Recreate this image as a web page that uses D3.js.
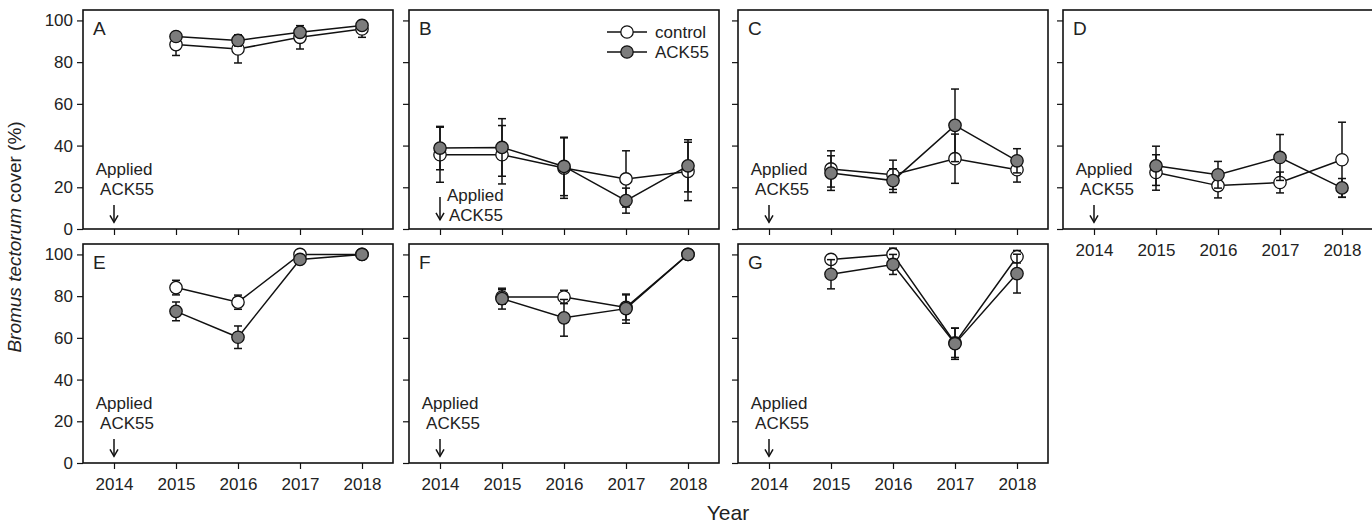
<!DOCTYPE html>
<html>
<head>
<meta charset="utf-8">
<script src="https://cdn.jsdelivr.net/npm/d3@7"></script>
<style>
  body { margin: 0; background: #fff; }
  svg { font-family: "Liberation Sans", Arial, sans-serif; }
</style>
</head>
<body>
<svg id="chart" width="1372" height="527"></svg>
<script>
// data (mean cover %, and error bar half-length)
const panelNames = ["A", "B", "C", "D", "E", "F", "G"];
const years = [2015, 2016, 2017, 2018];
const yearsB = [2014, 2015, 2016, 2017, 2018];
const tickYears = [2014, 2015, 2016, 2017, 2018];
const yTicks = [0, 20, 40, 60, 80, 100];

const controlMean = [
  [88.4, 86.3, 91.9, 95.9],
  [35.6, 35.6, 29.2, 24.0, 27.6],
  [28.8, 26.0, 33.7, 28.4],
  [27.1, 20.8, 22.3, 33.2],
  [84.1, 77.1, 100, 100],
  [79.6, 79.6, 74.6, 100],
  [97.6, 100, 57.6, 98.9]
];
const controlErr = [
  [5.2, 6.7, 5.6, 4.0],
  [13.2, 14.0, 14.5, 13.5, 14.0],
  [8.7, 7.0, 11.8, 5.9],
  [8.5, 5.9, 5.0, 18.0],
  [3.5, 3.4, 0.5, 0],
  [3.5, 3.2, 6.0, 0],
  [2.0, 3.0, 7.0, 3.0]
];
const ackMean = [
  [92.3, 90.4, 94.3, 97.6],
  [38.8, 39.1, 30.0, 13.6, 30.3],
  [26.8, 23.2, 49.7, 32.7],
  [30.3, 26.0, 34.3, 19.7],
  [72.7, 60.3, 97.6, 100],
  [78.8, 69.6, 74.0, 100],
  [90.5, 95.2, 57.2, 90.8]
];
const ackErr = [
  [2.0, 2.7, 2.2, 1.2],
  [10.4, 13.8, 14.0, 6.0, 12.5],
  [8.3, 5.7, 17.4, 5.8],
  [9.4, 6.4, 11.0, 4.5],
  [4.5, 5.4, 1.0, 0],
  [5.0, 8.8, 7.0, 0],
  [7.0, 4.8, 7.5, 9.3]
];

const svg = d3.select("#chart");

// grid of panels
const colLeft = [83, 409, 738, 1063];
const rowTop = [10, 244];
const pw = 310, ph = 219;

const x = d3.scaleLinear().domain([2013.5, 2018.5]).range([0, pw]);
const y = d3.scaleLinear().domain([0, 105]).range([ph, 0]);

const series = [
  { name: "control", mean: controlMean, err: controlErr, fill: "#fff" },
  { name: "ACK55", mean: ackMean, err: ackErr, fill: "#7c7c7c" }
];

panelNames.forEach((name, i) => {
  const row = i < 4 ? 0 : 1;
  const col = i < 4 ? i : i - 4;
  const g = svg.append("g")
    .attr("transform", `translate(${colLeft[col]},${rowTop[row]})`);
  const yrs = name === "B" ? yearsB : years;

  // axes (ticks outside, labels only on outer panels)
  const showY = col === 0;
  const showX = row === 1 || col === 3;
  const ya = g.append("g")
    .call(d3.axisLeft(y).tickValues(yTicks).tickSize(6).tickPadding(4)
      .tickFormat(showY ? d3.format("d") : ""));
  const xa = g.append("g")
    .attr("transform", `translate(0,${ph})`)
    .call(d3.axisBottom(x).tickValues(tickYears).tickSize(6).tickPadding(9)
      .tickFormat(showX ? d3.format("d") : ""));
  [ya, xa].forEach(a => {
    a.select(".domain").remove();
    a.selectAll("line").attr("stroke", "#111").attr("stroke-width", 1.2);
    a.selectAll("text").attr("fill", "#222").style("font-size", "17px")
      .style("font-family", "'Liberation Sans', Arial, sans-serif");
  });

  // series
  series.forEach(s => {
    const pts = yrs.map((yr, k) => ({ yr, v: s.mean[i][k], e: s.err[i][k] }));
    g.append("path")
      .datum(pts)
      .attr("fill", "none")
      .attr("stroke", "#111")
      .attr("stroke-width", 1.5)
      .attr("d", d3.line().x(d => x(d.yr)).y(d => y(d.v)));

    const eb = g.append("g").attr("stroke", "#111").attr("stroke-width", 1.5);
    pts.filter(d => d.e > 0).forEach(d => {
      const cx = x(d.yr);
      eb.append("line").attr("x1", cx).attr("x2", cx)
        .attr("y1", y(d.v - d.e)).attr("y2", y(d.v + d.e));
      [d.v - d.e, d.v + d.e].forEach(v => {
        eb.append("line").attr("x1", cx - 4).attr("x2", cx + 4)
          .attr("y1", y(v)).attr("y2", y(v));
      });
    });

    g.selectAll(null)
      .data(pts)
      .enter()
      .append("circle")
      .attr("cx", d => x(d.yr))
      .attr("cy", d => y(d.v))
      .attr("r", 6.2)
      .attr("fill", s.fill)
      .attr("stroke", "#111")
      .attr("stroke-width", 1.3);
  });

  // frame
  g.append("rect")
    .attr("width", pw).attr("height", ph)
    .attr("fill", "none")
    .attr("stroke", "#111")
    .attr("stroke-width", 1.6);

  // panel letter
  g.append("text")
    .attr("x", 10).attr("y", 25)
    .attr("fill", "#222")
    .style("font-size", "19px")
    .text(name);

  // "Applied ACK55" note with arrow at 2014
  const ax = x(2014);
  const note = g.append("g").attr("fill", "#222").style("font-size", "17px");
  let arrowTop, arrowTip;
  if (name === "B") {
    note.append("text").attr("x", ax + 7).attr("y", y(13.2)).text("Applied");
    note.append("text").attr("x", ax + 9).attr("y", y(4)).text("ACK55");
    arrowTop = y(15.4); arrowTip = y(4.4);
  } else {
    note.append("text").attr("x", ax + 10).attr("y", y(26))
      .attr("text-anchor", "middle").text("Applied");
    note.append("text").attr("x", ax + 13).attr("y", y(16.3))
      .attr("text-anchor", "middle").text("ACK55");
    arrowTop = y(11.5); arrowTip = y(3.2);
  }
  const arr = g.append("g").attr("stroke", "#111").attr("stroke-width", 1.5).attr("fill", "none");
  arr.append("line").attr("x1", ax).attr("x2", ax).attr("y1", arrowTop).attr("y2", arrowTip);
  arr.append("path")
    .attr("d", `M${ax - 4},${arrowTip - 7}L${ax},${arrowTip}L${ax + 4},${arrowTip - 7}`);

  // legend lives in panel B
  if (name === "B") {
    const lg = g.append("g").attr("transform", `translate(${607 - colLeft[1]},${32 - rowTop[0]})`);
    series.forEach((s, k) => {
      const row = lg.append("g").attr("transform", `translate(0,${k * 20})`);
      row.append("line").attr("x1", 0).attr("x2", 40)
        .attr("stroke", "#111").attr("stroke-width", 1.5);
      row.append("circle").attr("cx", 20).attr("r", 6.2)
        .attr("fill", s.fill).attr("stroke", "#111").attr("stroke-width", 1.3);
      row.append("text").attr("x", 48).attr("y", 6)
        .attr("fill", "#222").style("font-size", "17px").text(s.name);
    });
  }
});

// axis titles
const yTitle = svg.append("text")
  .attr("transform", "translate(21,237) rotate(-90)")
  .attr("text-anchor", "middle")
  .attr("fill", "#222")
  .style("font-size", "19px");
yTitle.append("tspan").style("font-style", "italic").text("Bromus tectorum");
yTitle.append("tspan").text(" cover (%)");

svg.append("text")
  .attr("x", 728).attr("y", 520)
  .attr("text-anchor", "middle")
  .attr("fill", "#222")
  .style("font-size", "21px")
  .text("Year");
</script>
</body>
</html>
